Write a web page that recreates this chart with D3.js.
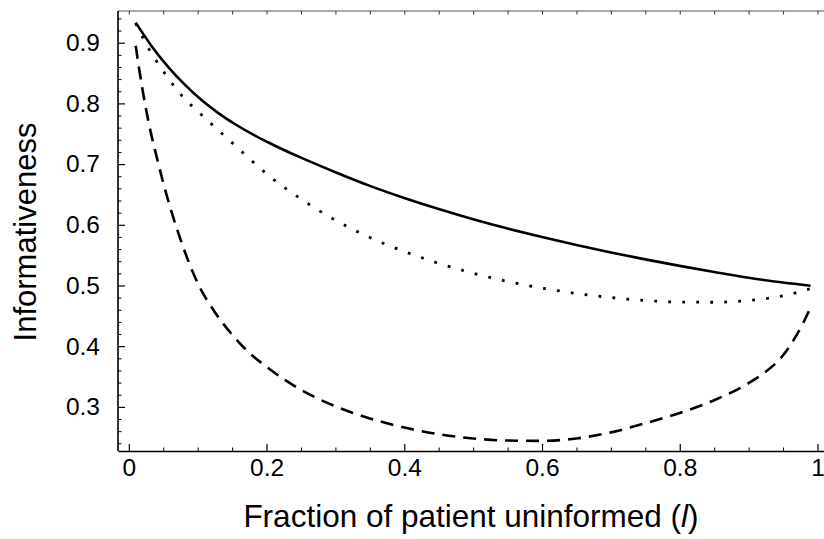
<!DOCTYPE html>
<html>
<head>
  <meta charset="utf-8">
  <title>Informativeness</title>
  <script src="https://cdn.jsdelivr.net/npm/d3@7"></script>
  <style type="text/css">
    body { margin: 0; background: #fff; }
    text { font-family: "Liberation Sans", Arial, sans-serif; fill: #000; }
  </style>
</head>
<body>
<script>

var width = 824;
var height = 539;

// fraction of patient uninformed (l) and informativeness
var lSolid = [0.01, 0.034, 0.058, 0.082, 0.106, 0.13, 0.154, 0.178, 0.202, 0.226, 0.25, 0.3, 0.35, 0.4, 0.45, 0.5, 0.55, 0.6, 0.65, 0.7, 0.75, 0.8, 0.85, 0.9, 0.95, 0.99];
var solidVals = [0.933, 0.893, 0.859, 0.830, 0.805, 0.784, 0.766, 0.750, 0.736, 0.7228, 0.7106, 0.6866, 0.6641, 0.6441, 0.6259, 0.6091, 0.5938, 0.5798, 0.5668, 0.5545, 0.543, 0.5323, 0.5223, 0.5128, 0.5048, 0.4996];

var lDotted = [0.01, 0.02, 0.03, 0.04, 0.05, 0.06, 0.08, 0.1, 0.125, 0.15, 0.175, 0.2, 0.25, 0.3, 0.35, 0.4, 0.45, 0.5, 0.55, 0.6, 0.65, 0.7, 0.75, 0.8, 0.85, 0.9, 0.95, 0.99];
var dottedVals = [0.932, 0.909, 0.888, 0.870, 0.853, 0.837, 0.809, 0.787, 0.761, 0.735, 0.709, 0.684, 0.6425, 0.6075, 0.579, 0.556, 0.5365, 0.5202, 0.5067, 0.4957, 0.4869, 0.4801, 0.4753, 0.4727, 0.4724, 0.4754, 0.4829, 0.495];

var lDashed = [0.01, 0.015, 0.02, 0.03, 0.04, 0.05, 0.06, 0.075, 0.1, 0.125, 0.15, 0.175, 0.2, 0.25, 0.3, 0.35, 0.4, 0.45, 0.5, 0.55, 0.6, 0.65, 0.7, 0.75, 0.8, 0.85, 0.9, 0.925, 0.95, 0.97, 0.98, 0.99];
var dashedVals = [0.895, 0.857, 0.822, 0.762, 0.714, 0.669, 0.629, 0.576, 0.504, 0.456, 0.419, 0.389, 0.366, 0.328, 0.301, 0.281, 0.266, 0.255, 0.248, 0.2445, 0.244, 0.248, 0.258, 0.273, 0.290, 0.311, 0.339, 0.358, 0.385, 0.419, 0.440, 0.464];

var xMajor = [0, 0.2, 0.4, 0.6, 0.8, 1];
var xMajorLabels = ["0", "0.2", "0.4", "0.6", "0.8", "1"];
var yMajor = [0.3, 0.4, 0.5, 0.6, 0.7, 0.8, 0.9];
var yMajorLabels = ["0.3", "0.4", "0.5", "0.6", "0.7", "0.8", "0.9"];

// plot box (right edge falls just outside the picture, as in the original)
var pLeft = 118, pRight = 828.3, pTop = 11, pBottom = 451;

var x = d3.scaleLinear().domain([-0.0157, 1.0157]).range([pLeft, pRight]);
var y = d3.scaleLinear().domain([0.2273, 0.9522]).range([pBottom, pTop]);

var svg = d3.select("body").append("svg")
    .attr("width", width)
    .attr("height", height);

// frame: top edge thin grey
svg.append("line")
    .attr("x1", pLeft).attr("x2", pRight)
    .attr("y1", pTop).attr("y2", pTop)
    .attr("stroke", "#555").attr("stroke-width", 1);

// bottom axis, ticks pointing inward
var xMinor = d3.range(0, 1.0001, 0.05).filter(function(v){ return Math.abs(v*5 - Math.round(v*5)) > 1e-6; });
var xAxis = d3.axisBottom(x).tickValues(xMajor).tickSize(-7).tickSizeOuter(0)
    .tickFormat(function(d,i){ return xMajorLabels[i]; });
var gx = svg.append("g").attr("transform", "translate(0," + pBottom + ")").call(xAxis);
gx.select(".domain").attr("stroke", "#000").attr("stroke-width", 1.6);
gx.selectAll(".tick line").attr("stroke-width", 1.2);
gx.selectAll(".tick text").attr("dy", null).attr("y", 25)
    .style("font-size", "24.5px").style("font-family", "Liberation Sans, Arial, sans-serif");
svg.append("g").attr("transform", "translate(0," + pBottom + ")")
    .call(d3.axisBottom(x).tickValues(xMinor).tickSize(-3.5).tickFormat(""))
    .call(function(g){ g.select(".domain").remove(); });

// top ticks
svg.append("g").attr("transform", "translate(0," + pTop + ")")
    .call(d3.axisTop(x).tickValues(d3.range(0, 1.0001, 0.05)).tickSize(-3.5).tickFormat(""))
    .call(function(g){ g.select(".domain").remove(); g.selectAll("line").attr("stroke", "#333"); });

// left axis
var yMinor = d3.range(0.24, 0.95, 0.02).filter(function(v){ return Math.abs(v*10 - Math.round(v*10)) > 1e-6; });
var yAxis = d3.axisLeft(y).tickValues(yMajor).tickSize(-7).tickSizeOuter(0)
    .tickFormat(function(d,i){ return yMajorLabels[i]; });
var gy = svg.append("g").attr("transform", "translate(" + pLeft + ",0)").call(yAxis);
gy.select(".domain").attr("stroke", "#000").attr("stroke-width", 1.6)
    .attr("d", "M0," + pTop + "V" + pBottom);
gy.selectAll(".tick line").attr("stroke-width", 1.2);
gy.selectAll(".tick text").attr("x", -18)
    .style("font-size", "24.5px").style("font-family", "Liberation Sans, Arial, sans-serif");
svg.append("g").attr("transform", "translate(" + pLeft + ",0)")
    .call(d3.axisLeft(y).tickValues(yMinor).tickSize(-3.5).tickFormat(""))
    .call(function(g){ g.select(".domain").remove(); });

// curves
var line = d3.line()
    .x(function(d){ return x(d[0]); })
    .y(function(d){ return y(d[1]); })
    .curve(d3.curveMonotoneX);

function pairs(ls, vs){ return ls.map(function(l,i){ return [l, vs[i]]; }); }

svg.append("path").datum(pairs(lDashed, dashedVals))
    .attr("d", line).attr("fill", "none").attr("stroke", "#000")
    .attr("stroke-width", 2.6).attr("stroke-dasharray", "13,8");

svg.append("path").datum(pairs(lDotted, dottedVals))
    .attr("d", line).attr("fill", "none").attr("stroke", "#000")
    .attr("stroke-width", 2.8).attr("stroke-dasharray", "2.8,11.2");

svg.append("path").datum(pairs(lSolid, solidVals))
    .attr("d", line).attr("fill", "none").attr("stroke", "#000")
    .attr("stroke-width", 2.6);

// axis titles
var xt = svg.append("text")
    .attr("x", (pLeft + 824) / 2).attr("y", 527)
    .attr("text-anchor", "middle")
    .style("font-size", "31.5px");
xt.append("tspan").text("Fraction of patient uninformed (");
xt.append("tspan").style("font-style", "italic").text("l");
xt.append("tspan").text(")");

svg.append("text")
    .attr("transform", "translate(36,232) rotate(-90)")
    .attr("text-anchor", "middle")
    .style("font-size", "31px")
    .text("Informativeness");

</script>
</body>
</html>
